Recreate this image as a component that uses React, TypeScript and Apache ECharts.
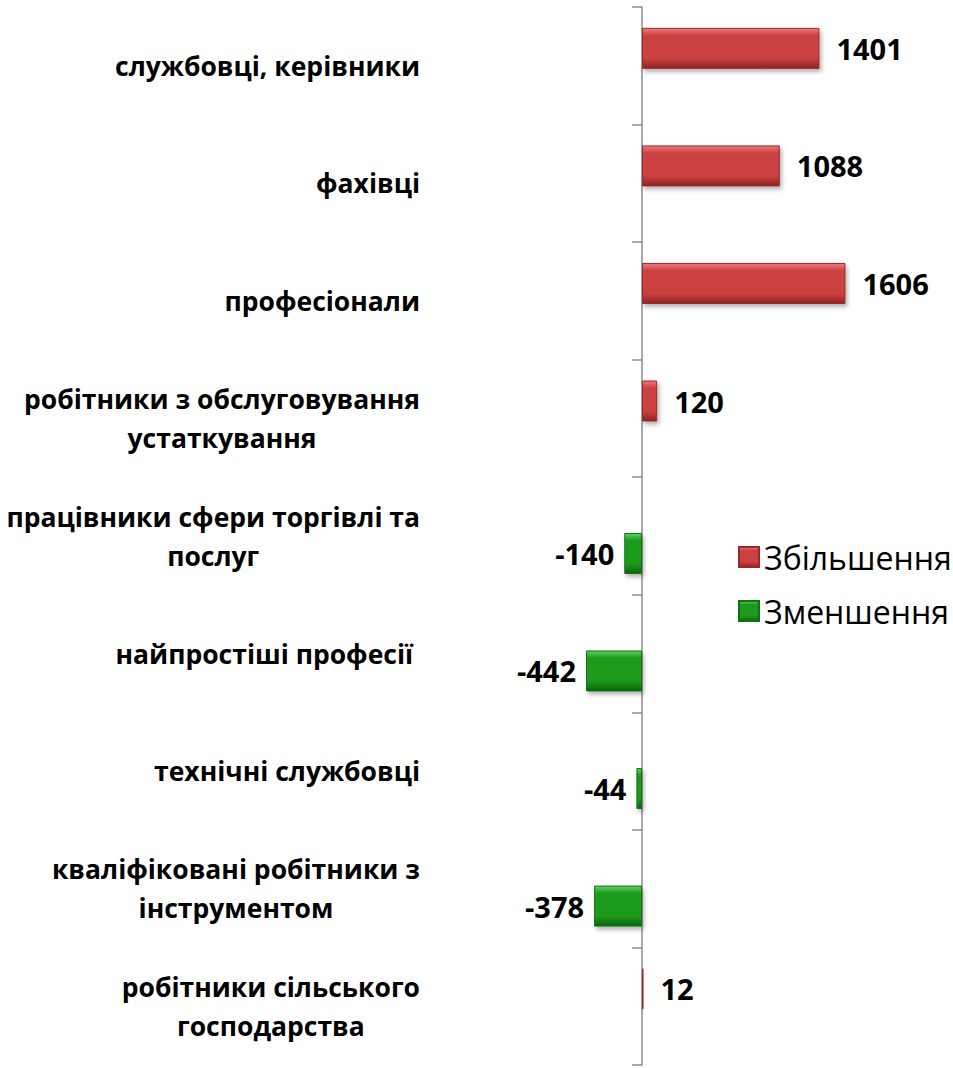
import React, { useEffect, useRef } from "react";
import * as echarts from "echarts";

const categories = [
  "службовці, керівники",
  "фахівці",
  "професіонали",
  "робітники з обслуговування\nустаткування",
  "працівники сфери торгівлі та\nпослуг",
  "найпростіші професії ",
  "технічні службовці",
  "кваліфіковані робітники з\nінструментом",
  "робітники сільського\nгосподарства",
];
const increaseValues: (number | string)[] = [1401, 1088, 1606, 120, "-", "-", "-", "-", 12];
const decreaseValues: (number | string)[] = ["-", "-", "-", "-", -140, -442, -44, -378, "-"];
const seriesNames = ["Збільшення", "Зменшення"];

const FONT = '"Open Sans", "Noto Sans", sans-serif';

function grad(light: string, main: string, dark: string) {
  return new echarts.graphic.LinearGradient(0, 0, 0, 1, [
    { offset: 0, color: light },
    { offset: 0.18, color: main },
    { offset: 0.75, color: main },
    { offset: 1, color: dark },
  ]);
}

export default function App() {
  const ref = useRef<HTMLDivElement>(null);
  useEffect(() => {
    if (!ref.current) return;
    const chart = echarts.init(ref.current, null, { renderer: "svg" });
    const labelStyle = {
      show: true,
      fontFamily: FONT,
      fontWeight: "bold" as const,
      fontSize: 29,
      color: "#000",
    };
    chart.setOption({
      animation: false,
      backgroundColor: "#fff",
      grid: {
        left: 566,
        right: 83,
        top: 7,
        bottom: 3,
        containLabel: false,
        outerBoundsMode: "none",
      },
      legend: {
        orient: "vertical",
        left: 733,
        top: 536,
        icon: "rect",
        itemWidth: 20,
        itemHeight: 20,
        itemGap: 22,
        data: seriesNames,
        textStyle: { fontFamily: FONT, fontSize: 32, color: "#000" },
      },
      xAxis: {
        type: "value",
        min: -600,
        max: 1800,
        show: false,
        splitLine: { show: false },
      },
      yAxis: {
        type: "category",
        inverse: true,
        data: categories,
        axisLine: { show: true, onZero: true, lineStyle: { color: "#8c8c8c", width: 1.5 } },
        axisTick: { show: true, length: 10, lineStyle: { color: "#8c8c8c", width: 1.5 } },
        axisLabel: {
          margin: 146,
          align: "right",
          formatter: (v: string) =>
            v
              .split("\n")
              .map((l) => `{c|${l}}`)
              .join("\n"),
          rich: {
            c: {
              align: "center",
              fontFamily: FONT,
              fontWeight: "bold",
              fontSize: 26.5,
              lineHeight: 39,
              color: "#000",
            },
          },
        },
      },
      series: [
        {
          name: seriesNames[0],
          type: "bar",
          data: increaseValues,
          barWidth: 41,
          barGap: "-15%",
          itemStyle: {
            color: grad("#ec7b7b", "#cb4141", "#8f2424"),
            borderColor: "#9a2a2a",
            borderWidth: 1,
            shadowColor: "rgba(0,0,0,0.3)",
            shadowBlur: 4,
            shadowOffsetX: 2,
            shadowOffsetY: 3,
          },
          label: { ...labelStyle, position: "right", distance: 17 },
        },
        {
          name: seriesNames[1],
          type: "bar",
          data: decreaseValues,
          barWidth: 41,
          barGap: "-15%",
          itemStyle: {
            color: grad("#5fd05f", "#1e9a1e", "#0c640c"),
            borderColor: "#137013",
            borderWidth: 1,
            shadowColor: "rgba(0,0,0,0.3)",
            shadowBlur: 4,
            shadowOffsetX: 2,
            shadowOffsetY: 3,
          },
          label: { ...labelStyle, position: "left", distance: 10 },
        },
      ],
    });
    return () => chart.dispose();
  }, []);
  return (
    <div
      ref={ref}
      style={{ position: "fixed", left: 0, top: 0, width: 953, height: 1068, background: "#fff" }}
    />
  );
}
